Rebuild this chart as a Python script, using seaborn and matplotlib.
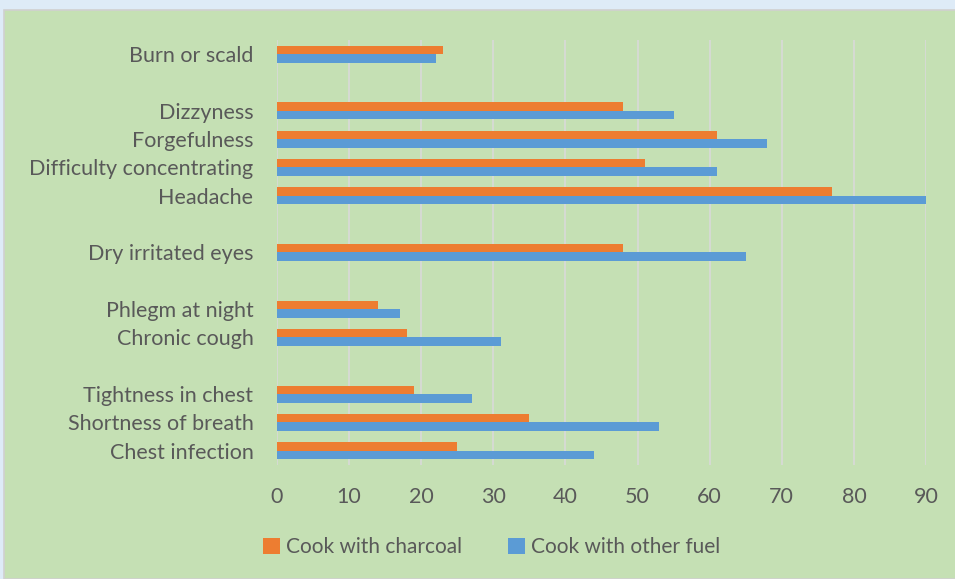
import matplotlib
matplotlib.use("Agg")
import matplotlib.pyplot as plt
from matplotlib.patches import Rectangle
import pandas as pd
import seaborn as sns

# symptom slots, top to bottom; blank strings are the gaps between groups
symptoms = ["Burn or scald", " ", "Dizzyness", "Forgefulness", "Difficulty concentrating",
            "Headache", "  ", "Dry irritated eyes", "   ", "Phlegm at night", "Chronic cough",
            "    ", "Tightness in chest", "Shortness of breath", "Chest infection"]
charcoal = [23, None, 48, 61, 51, 77, None, 48, None, 14, 18, None, 19, 35, 25]
other_fuel = [22, None, 55, 68, 61, 90, None, 65, None, 17, 31, None, 27, 53, 44]
series = ["Cook with charcoal", "Cook with other fuel"]
x_ticks = [0, 10, 20, 30, 40, 50, 60, 70, 80, 90]

rows = []
for s, a, b in zip(symptoms, charcoal, other_fuel):
    rows.append({"symptom": s, "fuel": series[0], "pct": a})
    rows.append({"symptom": s, "fuel": series[1], "pct": b})
df = pd.DataFrame(rows)

sns.set_style("white")
plt.rcParams["font.family"] = ["Lato", "DejaVu Sans"]

text_col = "#595959"
fig = plt.figure(figsize=(9.55, 5.79), dpi=100)
fig.patch.set_facecolor("#DEEBF7")
fig.patches.append(Rectangle((4 / 955, 0), 1, 1 - 10 / 579, transform=fig.transFigure,
                             facecolor="#C5E0B4", edgecolor="#D0D0D0", linewidth=1.2, zorder=-5))

ax = fig.add_axes([277 / 955, 1 - 465 / 579, (926 - 277) / 955, (465 - 40) / 579])
ax.set_facecolor("none")
sns.barplot(data=df, y="symptom", x="pct", hue="fuel", order=symptoms, hue_order=series,
            palette=["#ED7D31", "#5B9BD5"], orient="h", width=0.6, errorbar=None,
            saturation=1, linewidth=0, ax=ax)

ax.set_xlim(0, 90)
ax.set_xticks(x_ticks)
ax.set_xlabel("")
ax.set_ylabel("")
ax.grid(axis="x", color="#D9D9D9", linewidth=1.2)
ax.set_axisbelow(True)
for sp in ax.spines.values():
    sp.set_visible(False)
ax.tick_params(axis="both", length=0, labelsize=15.5, labelcolor=text_col)
ax.tick_params(axis="x", pad=16)
ax.tick_params(axis="y", pad=17)

ax.legend_.remove()
handles, labels = ax.get_legend_handles_labels()
for h in handles:
    h.set_edgecolor("none")
fig.legend(handles, labels, loc="center", bbox_to_anchor=(0.515, 1 - 547 / 579), ncol=2,
           frameon=False, fontsize=15, labelcolor=text_col, handlelength=0.8,
           handleheight=0.8, handletextpad=0.3, columnspacing=2.2)

fig.savefig("out.png", dpi=100, facecolor=fig.get_facecolor())
